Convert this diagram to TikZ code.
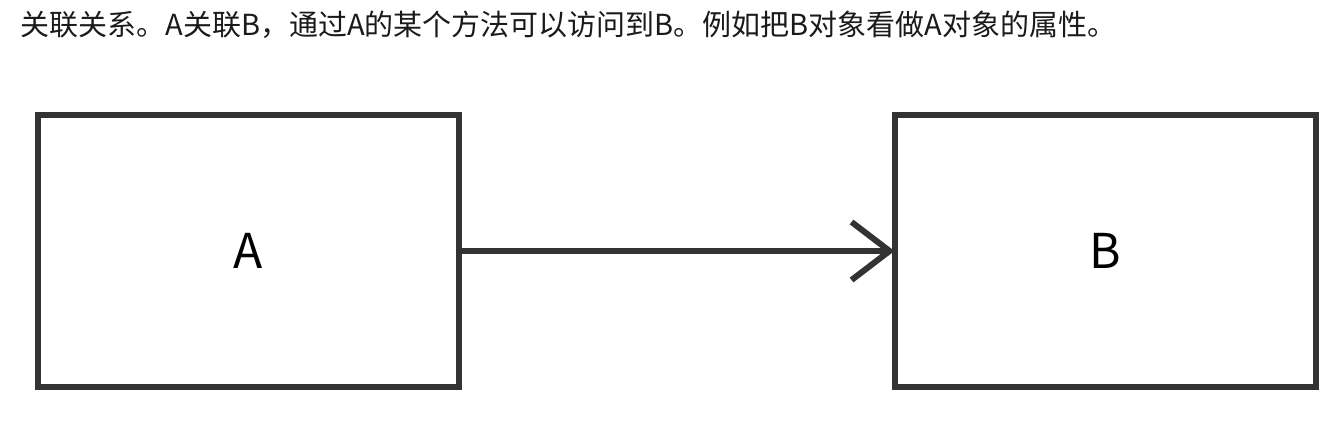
\documentclass[tikz,border=0pt]{standalone}
\usepackage{fontspec}
\setmainfont{Noto Sans CJK SC}
\usetikzlibrary{arrows.meta}
\definecolor{trait}{HTML}{333333}
\definecolor{encre}{HTML}{1A1A1A}

\begin{document}
\begin{tikzpicture}[x=0.5pt, y=-0.5pt]
			\tikzset{classe/.style={rectangle, draw=trait, line width=3pt, minimum width=210.5pt, minimum height=136pt, font=\fontsize{24}{28}\selectfont, text=black}, assoc/.style={draw=trait, line width=3pt, shorten >=-1.5pt, -{Straight Barb[length=19pt, width=29pt, line width=3pt]}}};

			\useasboundingbox (0,0) rectangle (1340,424);

			\node[anchor=west, text=encre, font=\fontsize{14.5}{17}\selectfont, inner sep=0pt] (titre) at (20,25) {关联关系。A关联B，通过A的某个方法可以访问到B。例如把B对象看做A对象的属性。};

			\node[classe] (a) at ( 248, 251) {A};
			\node[classe] (b) at (1105, 251) {B};

			\draw[assoc] (a) to (b);

		\end{tikzpicture}
\end{document}
